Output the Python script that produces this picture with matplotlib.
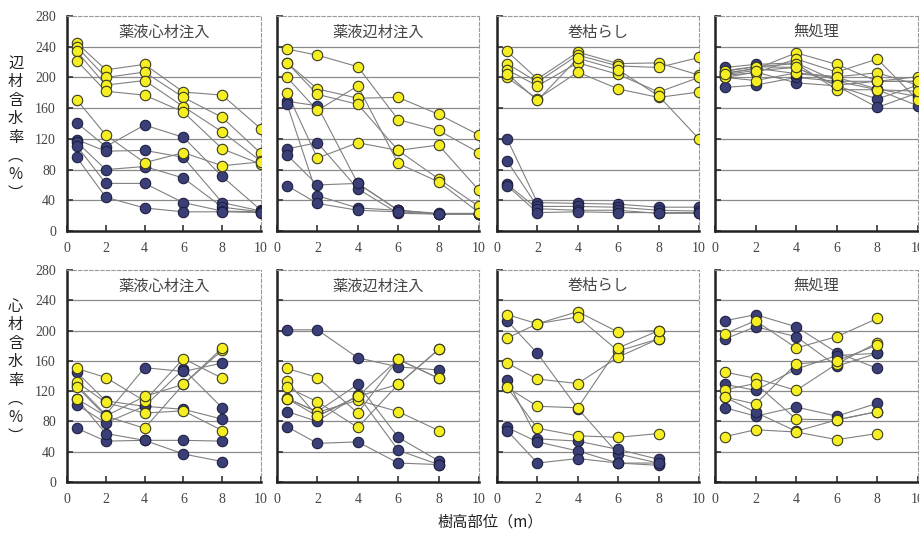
import matplotlib
matplotlib.use("Agg")
import matplotlib.pyplot as plt

plt.rcParams["font.family"] = ["Noto Sans CJK JP", "DejaVu Sans"]

# 樹高部位 (m)
HEIGHTS_TOP = [0.5, 2, 4, 6, 8, 10]
HEIGHTS_BOTTOM = [0.5, 2, 4, 6, 8]
PANEL_TITLES = ["薬液心材注入", "薬液辺材注入", "巻枯らし", "無処理"]

# ---- 辺材含水率 (%) ----
sap_heart_yellow = [
    [245, 210, 217, 181, 177, 133],
    [240, 200, 207, 174, 148, 101],
    [234, 190, 196, 162, 129, 91],
    [222, 182, 177, 155, 107, 87],
    [171, 125, 89, 102, 85, 90],
]
sap_heart_navy = [
    [141, 110, 138, 122, 71, 27],
    [119, 104, 105, 96, 37, 26],
    [116, 80, 84, 69, 31, 25],
    [111, 62, 62, 37, 26, 25],
    [96, 44, 30, 25, 25, 24],
]
sap_sap_yellow = [
    [237, 229, 214, 145, 131, 102],
    [219, 185, 173, 174, 152, 125],
    [219, 178, 165, 105, 68, 32],
    [200, 157, 189, 88, 64, 24],
    [180, 95, 115, 105, 112, 53],
]
sap_sap_navy = [
    [169, 163, 62, 27, 22, 22],
    [165, 46, 30, 27, 22, 22],
    [107, 115, 55, 23, 22, 22],
    [99, 60, 62, 27, 23, 23],
    [59, 36, 27, 25, 22, 22],
]
sap_girdle_yellow = [
    [234, 198, 233, 218, 219, 203],
    [218, 194, 229, 215, 213, 226],
    [210, 189, 219, 204, 181, 200],
    [200, 172, 207, 185, 174, 181],
    [205, 170, 225, 210, 176, 120],
]
sap_girdle_navy = [
    [120, 37, 36, 35, 31, 31],
    [91, 32, 32, 31, 27, 26],
    [61, 29, 27, 27, 23, 23],
    [59, 24, 25, 24, 24, 24],
]
sap_none_yellow = [
    [206, 211, 232, 217, 195, 201],
    [203, 206, 224, 207, 224, 170],
    [200, 196, 206, 201, 206, 190],
    [208, 214, 218, 184, 184, 182],
    [204, 209, 213, 190, 195, 195],
]
sap_none_navy = [
    [213, 217, 219, 195, 195, 195],
    [209, 214, 213, 189, 172, 190],
    [200, 207, 193, 189, 161, 180],
    [187, 190, 200, 195, 184, 163],
    [205, 212, 205, 200, 185, 175],
]

# ---- 心材含水率 (%) ----
heart_heart_yellow = [
    [150, 138, 107, 163, 137],
    [132, 105, 91, 94, 68],
    [126, 87, 113, 129, 174],
    [110, 87, 71, 129, 177],
]
heart_heart_navy = [
    [145, 107, 100, 149, 98],
    [128, 89, 151, 146, 157],
    [102, 78, 100, 96, 83],
    [71, 54, 55, 55, 54],
    [110, 64, 55, 37, 27],
]
heart_sap_yellow = [
    [150, 138, 91, 162, 137],
    [133, 87, 113, 129, 175],
    [125, 106, 72, 129, 175],
    [111, 92, 108, 93, 68],
    [110, 87, 113, 162, 137],
]
heart_sap_navy = [
    [201, 201, 164, 152, 148],
    [110, 93, 129, 59, 28],
    [93, 80, 115, 42, 23],
    [73, 51, 53, 25, 23],
]
heart_girdle_yellow = [
    [221, 209, 225, 198, 200],
    [190, 209, 218, 173, 189],
    [157, 136, 130, 165, 189],
    [125, 100, 98, 177, 200],
    [125, 71, 61, 59, 64],
]
heart_girdle_navy = [
    [213, 170, 97, 37, 25],
    [135, 57, 54, 43, 30],
    [72, 53, 41, 25, 22],
    [68, 25, 31, 25, 25],
]
heart_none_yellow = [
    [196, 213, 177, 192, 216],
    [145, 137, 121, 156, 184],
    [122, 130, 83, 82, 93],
    [112, 103, 156, 160, 181],
    [60, 69, 66, 56, 64],
]
heart_none_navy = [
    [213, 221, 205, 171, 150],
    [189, 205, 192, 153, 170],
    [129, 121, 149, 167, 170],
    [98, 87, 99, 87, 104],
    [112, 92, 67, 82, 93],
]

top_rows = [
    (sap_heart_yellow, sap_heart_navy),
    (sap_sap_yellow, sap_sap_navy),
    (sap_girdle_yellow, sap_girdle_navy),
    (sap_none_yellow, sap_none_navy),
]
bottom_rows = [
    (heart_heart_yellow, heart_heart_navy),
    (heart_sap_yellow, heart_sap_navy),
    (heart_girdle_yellow, heart_girdle_navy),
    (heart_none_yellow, heart_none_navy),
]

YELLOW = "#f4ee22"
NAVY = "#3b3f78"
LINE = "#808080"
TICK_FONT = "Liberation Serif"

fig = plt.figure(figsize=(9.19, 5.34), dpi=100)

col_left = [0.0729, 0.3014, 0.5408, 0.7780]
col_width = [0.2111, 0.2198, 0.2198, 0.2209]
row_bottom = [0.5674, 0.0974]
row_height = [0.4026, 0.3970]


def draw_panel(ax, xs, yellow, navy, title, show_ylabels):
    for series in navy + yellow:
        ax.plot(xs, series, color=LINE, linewidth=0.8, zorder=2)
    for series in navy:
        ax.plot(xs, series, linestyle="none", marker="o", markersize=7.5,
                markerfacecolor=NAVY, markeredgecolor="#1e2040", markeredgewidth=0.8, zorder=3)
    for series in yellow:
        ax.plot(xs, series, linestyle="none", marker="o", markersize=7.5,
                markerfacecolor=YELLOW, markeredgecolor="#3a3a20", markeredgewidth=0.8, zorder=4)

    ax.set_xlim(0, 10)
    ax.set_ylim(0, 280)
    ax.set_xticks([0, 2, 4, 6, 8, 10])
    ax.set_yticks(range(0, 281, 40))
    for y in range(40, 241, 40):
        ax.axhline(y, color="#8a8a8a", linewidth=0.9, zorder=1)

    ax.spines["left"].set_linewidth(1.8)
    ax.spines["bottom"].set_linewidth(1.8)
    ax.spines["left"].set_color("#222222")
    ax.spines["bottom"].set_color("#222222")
    for side in ["top", "right"]:
        ax.spines[side].set_linestyle((0, (3, 2)))
        ax.spines[side].set_color("#9a9a9a")
        ax.spines[side].set_linewidth(0.8)

    ax.tick_params(direction="in", length=4, width=1.2, colors="#333333",
                   labelsize=10, pad=8)
    for lab in ax.get_xticklabels() + ax.get_yticklabels():
        lab.set_fontfamily(TICK_FONT)
        lab.set_color("#444444")
    if not show_ylabels:
        ax.tick_params(axis="y", labelleft=False)

    ax.text(5, 259, title, ha="center", va="center", fontsize=11, color="#444444")


for row, (data, xs) in enumerate([(top_rows, HEIGHTS_TOP), (bottom_rows, HEIGHTS_BOTTOM)]):
    for col in range(4):
        ax = fig.add_axes([col_left[col], row_bottom[row], col_width[col], row_height[row]])
        yellow, navy = data[col]
        draw_panel(ax, xs, yellow, navy, PANEL_TITLES[col], col == 0)

fig.text(0.017, 0.76, "辺\n材\n含\n水\n率\n︵\n%\n︶", ha="center", va="center",
         fontsize=11, linespacing=1.12, color="#222222")
fig.text(0.017, 0.305, "心\n材\n含\n水\n率\n︵\n%\n︶", ha="center", va="center",
         fontsize=11, linespacing=1.12, color="#222222")
fig.text(0.533, 0.022, "樹高部位（m）", ha="center", va="center", fontsize=11, color="#222222")

plt.savefig("out.png", dpi=100)
